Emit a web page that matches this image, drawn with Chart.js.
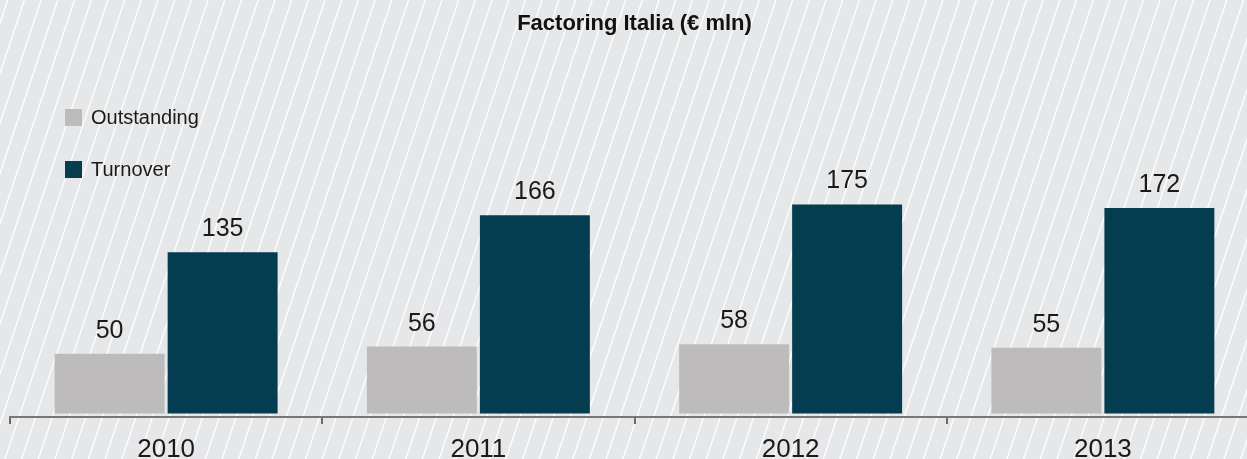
<!DOCTYPE html>
<html>
<head>
<meta charset="utf-8">
<script src="https://cdn.jsdelivr.net/npm/chart.js@4.4.1/dist/chart.umd.min.js"></script>
<style>
  html, body { margin: 0; padding: 0; width: 1247px; height: 459px; overflow: hidden; background: #e6e7e9; }
  #wrap { position: absolute; left: 0; top: 0; width: 1270px; height: 476px; }
  canvas { display: block; }
</style>
</head>
<body>
<div id="wrap"><canvas id="c" width="1270" height="476"></canvas></div>
<script>
// ---- data ----
const categories = ['2010', '2011', '2012', '2013'];
const seriesNames = ['Outstanding', 'Turnover'];
const outstanding = [50, 56, 58, 55];
const turnover = [135, 166, 175, 172];
const chartTitle = 'Factoring Italia (€ mln)';

const FONT = "'Liberation Sans', Arial, sans-serif";
const colors = ['#bdbbbc', '#033d4f'];

const stripes = {
  id: 'stripes',
  beforeDraw(chart) {
    const ctx = chart.ctx;
    const W = chart.width, H = chart.height;
    ctx.save();
    ctx.fillStyle = '#e6e7e9';
    ctx.fillRect(0, 0, W, H);
    ctx.strokeStyle = '#ffffff';
    ctx.lineWidth = 1.3;
    const step = 16.7;
    for (let x0 = 7.7 - step * 2; x0 < W + H / 3 + step; x0 += step) {
      ctx.beginPath();
      ctx.moveTo(x0, 0);
      ctx.lineTo(x0 - H / 3, H);
      ctx.stroke();
    }
    ctx.restore();
  }
};

const customLegend = {
  id: 'customLegend',
  afterDraw(chart) {
    const ctx = chart.ctx;
    ctx.save();
    chart.data.datasets.forEach((ds, i) => {
      const top = 109 + i * 52;
      ctx.fillStyle = ds.backgroundColor;
      ctx.fillRect(65, top, 17, 17);
      ctx.fillStyle = '#1a1a1a';
      ctx.font = '20px ' + FONT;
      ctx.textAlign = 'left';
      ctx.textBaseline = 'middle';
      ctx.fillText(ds.label, 91, top + 9);
    });
    ctx.restore();
  }
};

const valueLabels = {
  id: 'valueLabels',
  afterDatasetsDraw(chart) {
    const ctx = chart.ctx;
    ctx.save();
    ctx.fillStyle = '#1a1a1a';
    ctx.font = '25px ' + FONT;
    ctx.textAlign = 'center';
    ctx.textBaseline = 'alphabetic';
    chart.data.datasets.forEach((ds, i) => {
      const meta = chart.getDatasetMeta(i);
      meta.data.forEach((bar, j) => {
        ctx.fillText(String(ds.data[j]), bar.x, bar.y - 16);
      });
    });
    ctx.restore();
  }
};

new Chart(document.getElementById('c'), {
  type: 'bar',
  data: {
    labels: categories,
    datasets: [
      { label: seriesNames[0], data: outstanding, backgroundColor: colors[0] },
      { label: seriesNames[1], data: turnover, backgroundColor: colors[1] }
    ]
  },
  options: {
    responsive: false,
    animation: false,
    devicePixelRatio: 1,
    categoryPercentage: 0.7238,
    barPercentage: 0.973,
    layout: { padding: { left: 10, right: 11, top: 0, bottom: 0 } },
    plugins: {
      legend: { display: false },
      tooltip: { enabled: false },
      title: {
        display: true,
        text: chartTitle,
        color: '#111111',
        font: { family: FONT, size: 22, weight: 'bold', lineHeight: 1.2 },
        padding: { top: 10.8, bottom: 22.8 }
      }
    },
    scales: {
      x: {
        grid: {
          display: true,
          drawOnChartArea: false,
          drawTicks: true,
          tickLength: 7,
          tickWidth: 2,
          tickColor: '#6a6a6a',
          color: '#6a6a6a',
          lineWidth: 2,
          offset: true
        },
        border: { display: true, color: '#777777', width: 2 },
        ticks: {
          color: '#1a1a1a',
          font: { family: FONT, size: 26, lineHeight: 1 },
          padding: 13
        }
      },
      y: {
        display: false,
        min: -3,
        max: 296
      }
    }
  },
  plugins: [stripes, valueLabels, customLegend]
});
</script>
</body>
</html>
